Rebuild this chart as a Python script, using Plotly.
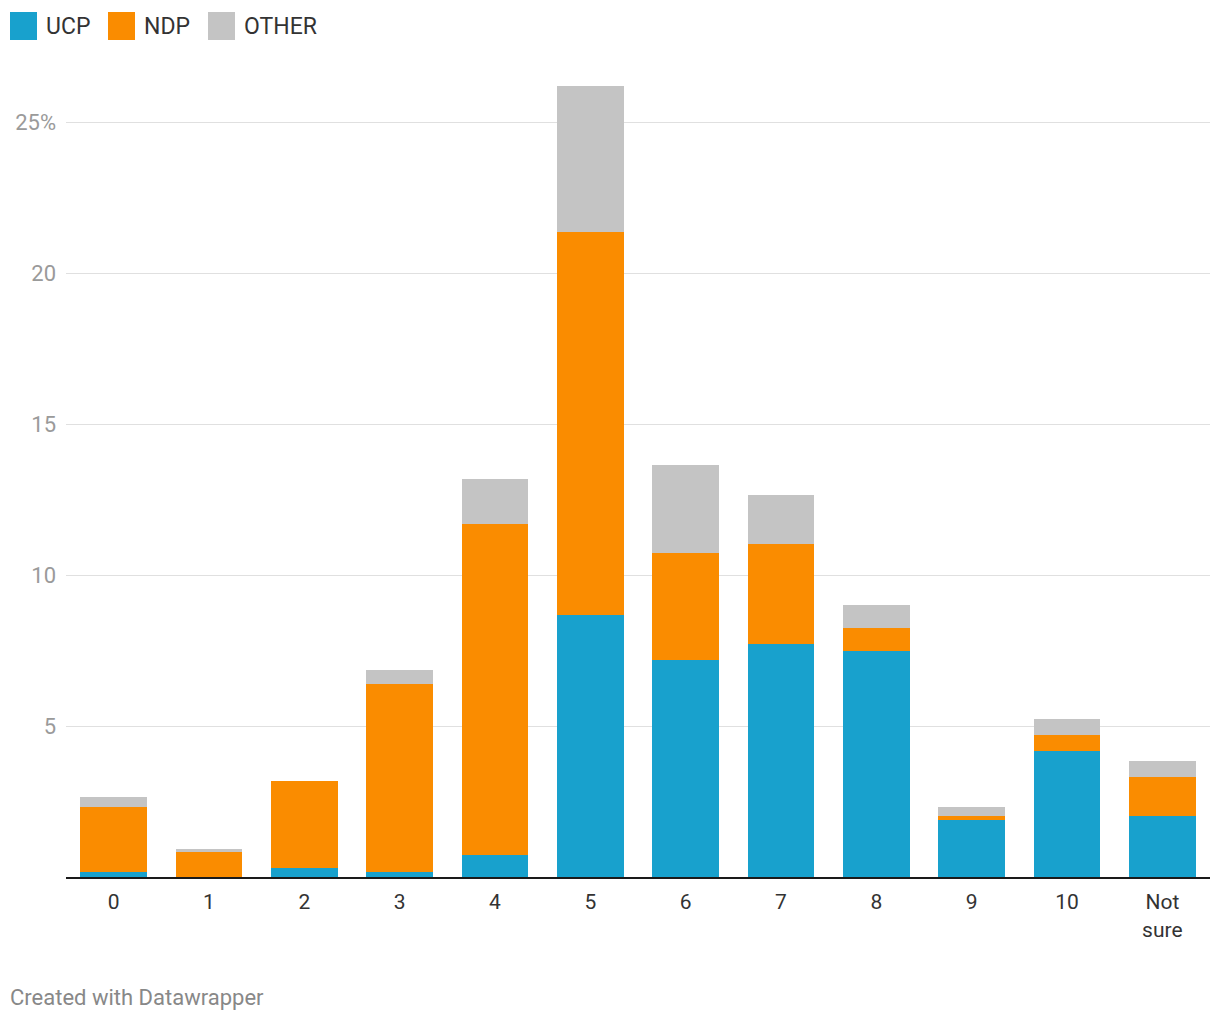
import plotly.graph_objects as go

categories = ["0", "1", "2", "3", "4", "5", "6", "7", "8", "9", "10", "Not<br>sure"]
series_names = ["UCP", "NDP", "OTHER"]
ucp = [0.17, 0.0, 0.30, 0.17, 0.73, 8.68, 7.19, 7.72, 7.48, 1.89, 4.17, 2.02]
ndp = [2.15, 0.83, 2.88, 6.22, 10.96, 12.68, 3.54, 3.31, 0.77, 0.13, 0.53, 1.29]
other = [0.33, 0.10, 0.0, 0.46, 1.49, 4.83, 2.91, 1.62, 0.75, 0.30, 0.53, 0.53]
tick_vals = [0, 5, 10, 15, 20, 25]
tick_text = ["", "5", "10", "15", "20", "25%"]

colors = ["#18a1cd", "#fa8c00", "#c4c4c4"]
FONT = "Roboto"

# page is offset by the 8px body margin; plot area in page coords: x 66..1210, y 83..877
OFF = 8
PL, PR, PT, PB = 66, 1210, 83, 877
W, H = 1220 - 2 * OFF, 1020 - 2 * OFF
PW, PH = PR - PL, PB - PT


def px(x):
    return (x - PL) / PW


def py(y):
    return (PB - y) / PH


fig = go.Figure()
for name, vals, col in zip(series_names, [ucp, ndp, other], colors):
    fig.add_trace(go.Bar(x=categories, y=vals, name=name, marker=dict(color=col, line=dict(width=0)),
                         hoverinfo="skip", showlegend=False))

fig.update_layout(
    width=W, height=H,
    barmode="stack", bargap=0.3,
    plot_bgcolor="white", paper_bgcolor="white",
    margin=dict(l=PL - OFF, r=W - (PR - OFF), t=PT - OFF, b=H - (PB - OFF)),
    font=dict(family=FONT, size=20, color="#333333"),
    xaxis=dict(showgrid=False, showline=True, linecolor="#1a1a1a", linewidth=2,
               ticks="", tickfont=dict(size=21, color="#333333"), fixedrange=True,
               ticklabelstandoff=5),
    yaxis=dict(range=[0, 26.3], tickvals=tick_vals, ticktext=tick_text,
               showgrid=True, gridcolor="#e0e0e0", gridwidth=1, zeroline=False,
               tickfont=dict(size=22, color="#9a9a9a"), ticks="", showline=False,
               fixedrange=True, ticklabelstandoff=9),
)

# legend drawn manually
leg_x = [10, 108, 208]
for name, col, lx in zip(series_names, colors, leg_x):
    fig.add_shape(type="rect", xref="paper", yref="paper",
                  x0=px(lx), x1=px(lx + 27),
                  y0=py(40), y1=py(12),
                  fillcolor=col, line=dict(width=0))
    fig.add_annotation(text=name, xref="paper", yref="paper",
                       x=px(lx + 34), y=py(26),
                       xanchor="left", yanchor="middle", showarrow=False,
                       font=dict(size=23, color="#333333", family=FONT))

fig.add_annotation(text="Created with Datawrapper", xref="paper", yref="paper",
                   x=px(8), y=py(997), xanchor="left", yanchor="middle",
                   showarrow=False, font=dict(size=22, color="#888888", family=FONT))

fig.write_html("out.html")
